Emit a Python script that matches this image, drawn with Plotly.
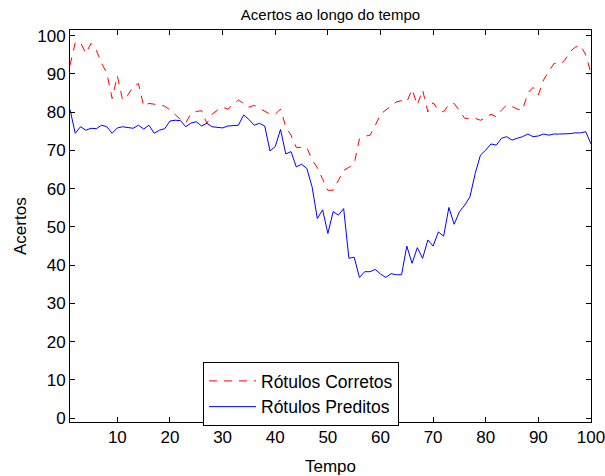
import plotly.graph_objects as go

tempo = list(range(1, 101))

rotulos_corretos = [
    92.3, 98.2, 98.2, 95.4, 98.0, 96.2, 92.8, 90.2, 83.6, 89.5,
    83.2, 84.5, 86.7, 87.5, 81.6, 82.3, 82.1, 81.8, 81.6, 80.6,
    79.3, 78.1, 77.2, 79.7, 80.2, 80.4, 77.1, 79.5, 80.5, 81.3,
    80.8, 82.0, 83.2, 82.3, 81.3, 81.8, 81.0, 80.4, 79.5, 79.5,
    80.8, 76.2, 74.0, 70.8, 70.8, 70.8, 67.5, 65.5, 62.5, 59.6,
    59.6, 62.3, 64.8, 65.6, 66.5, 73.0, 73.7, 74.0, 76.5, 79.5,
    80.5, 81.5, 82.7, 83.0, 82.7, 86.0, 81.9, 85.8, 80.1, 82.5,
    80.6, 80.1, 82.0, 82.3, 80.5, 78.4, 78.4, 78.4, 77.9, 78.5,
    79.5, 78.8, 80.6, 81.9, 81.5, 80.8, 80.6, 85.0, 86.5, 84.5,
    88.5, 90.5, 92.8, 92.4, 93.6, 95.8, 97.0, 97.5, 95.0, 90.2,
]

rotulos_preditos = [
    80.7, 74.5, 76.2, 75.3, 75.8, 75.7, 76.6, 76.2, 74.5, 75.9,
    76.2, 75.9, 75.8, 76.6, 75.6, 76.6, 74.5, 75.3, 75.7, 77.7,
    77.9, 77.8, 76.2, 77.2, 77.5, 76.4, 77.1, 76.2, 76.0, 75.9,
    76.4, 76.5, 76.6, 79.3, 78.1, 76.6, 77.1, 76.4, 69.9, 71.0,
    75.5, 69.1, 69.7, 65.7, 66.4, 65.3, 60.5, 52.2, 54.5, 48.3,
    54.0, 53.1, 54.8, 41.8, 42.1, 36.8, 38.3, 38.3, 38.9, 37.7,
    36.8, 37.8, 37.5, 37.5, 45.0, 40.5, 44.6, 41.8, 46.6, 45.0,
    48.7, 47.6, 55.1, 50.7, 54.0, 55.7, 57.9, 64.0, 68.8, 70.1,
    71.7, 71.4, 73.2, 73.6, 72.7, 73.2, 73.6, 74.3, 73.6, 73.8,
    74.3, 74.0, 74.3, 74.3, 74.3, 74.4, 74.6, 74.6, 74.9, 71.7,
]

x_ticks = [10, 20, 30, 40, 50, 60, 70, 80, 90, 100]
y_ticks = [0, 10, 20, 30, 40, 50, 60, 70, 80, 90, 100]

FONT = "Liberation Sans, Arial, Helvetica, sans-serif"

fig = go.Figure()
fig.add_trace(go.Scatter(
    x=tempo, y=rotulos_corretos, mode="lines", name="Rótulos Corretos",
    line=dict(color="#FF0000", width=1, dash="8px,7px"),
))
fig.add_trace(go.Scatter(
    x=tempo, y=rotulos_preditos, mode="lines", name="Rótulos Preditos",
    line=dict(color="#0000FF", width=1),
))

axis_common = dict(
    showline=True, linecolor="black", linewidth=1, mirror="ticks",
    ticks="inside", ticklen=5, tickcolor="black", tickwidth=1,
    showgrid=False, zeroline=False, ticklabeloverflow="allow",
    automargin=False,
    tickfont=dict(family=FONT, size=17, color="black"),
)

fig.update_layout(
    width=605, height=476,
    margin=dict(l=70, r=14, t=30, b=54),
    paper_bgcolor="white", plot_bgcolor="white",
    font=dict(family=FONT, color="black"),
    title=dict(text="Acertos ao longo do tempo", x=0.5, xref="paper",
               y=1 - 15 / 476, yref="container", yanchor="middle",
               font=dict(family=FONT, size=15, color="black")),
    xaxis=dict(range=[1, 100.0001], tickvals=x_ticks, **axis_common),
    yaxis=dict(range=[-1, 101.5], tickvals=y_ticks, **axis_common),
    legend=dict(x=(203 - 70) / 521, y=(422 - 362) / 392, xanchor="left", yanchor="top",
                bgcolor="white", bordercolor="black", borderwidth=1,
                font=dict(family=FONT, size=17.5, color="black"),
                itemwidth=47, tracegroupgap=0),
    showlegend=True,
    annotations=[
        dict(text="Acertos", x=(20 - 70) / 521, y=0.5, xref="paper", yref="paper",
             xanchor="center", showarrow=False, textangle=-90,
             font=dict(family=FONT, size=17)),
        dict(text="Tempo", x=0.5, y=-44 / 392, xref="paper", yref="paper",
             showarrow=False, yanchor="middle", font=dict(family=FONT, size=17)),
    ],
)

fig.write_html("out.html")
